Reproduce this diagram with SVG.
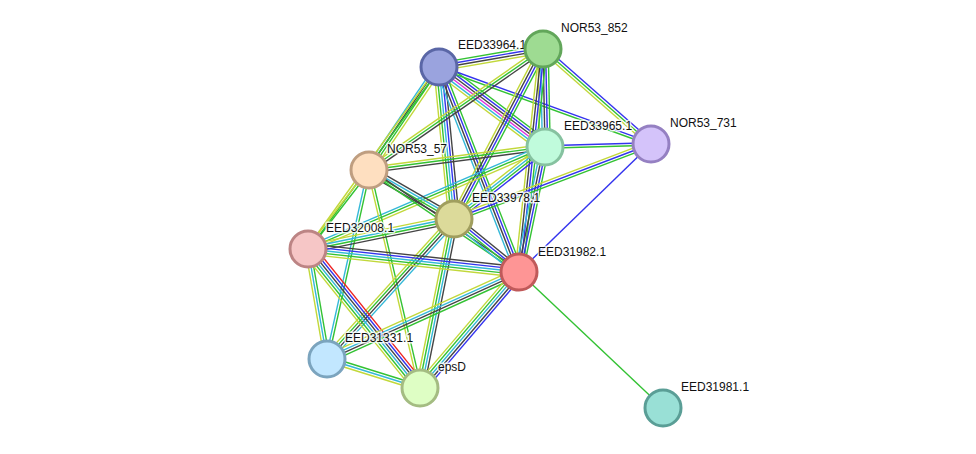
<svg xmlns="http://www.w3.org/2000/svg" width="976" height="454" viewBox="0 0 976 454">
<style>
#edges path{fill:none;stroke-width:1.4}
.g{stroke:#33c233}.b{stroke:#3333ee}.k{stroke:#444}.c{stroke:#33b8d8}.y{stroke:#c2d83a}.m{stroke:#dd33dd}.r{stroke:#ee2222}
.node circle{stroke-width:3}
text{font-family:"Liberation Sans",Arial,sans-serif;font-size:12px;fill:#111;stroke:#fff;stroke-width:3;stroke-opacity:0.8;paint-order:stroke;stroke-linejoin:round}
</style>
<rect width="976" height="454" fill="#fff"/>
<g id="edges">
<g transform="translate(439,67) rotate(-9.82)"><path class="g" d="M0,-3.9H105.5"/><path class="b" d="M0,-1.3H105.5"/><path class="k" d="M0,1.3H105.5"/><path class="y" d="M0,3.9H105.5"/></g>
<g transform="translate(439,67) rotate(37.04)"><path class="g" d="M0,-6.5H132.8"/><path class="b" d="M0,-3.9H132.8"/><path class="k" d="M0,-1.3H132.8"/><path class="m" d="M0,1.3H132.8"/><path class="c" d="M0,3.9H132.8"/><path class="y" d="M0,6.5H132.8"/></g>
<g transform="translate(439,67) rotate(19.96)"><path class="b" d="M0,-1.3H225.6"/><path class="g" d="M0,1.3H225.6"/></g>
<g transform="translate(439,67) rotate(124.2)"><path class="y" d="M0,-3.9H124.5"/><path class="g" d="M0,-1.3H124.5"/><path class="k" d="M0,1.3H124.5"/><path class="c" d="M0,3.9H124.5"/></g>
<g transform="translate(439,67) rotate(84.36)"><path class="k" d="M0,-5.2H152.7"/><path class="b" d="M0,-2.6H152.7"/><path class="c" d="M0,0H152.7"/><path class="g" d="M0,2.6H152.7"/><path class="y" d="M0,5.2H152.7"/></g>
<g transform="translate(439,67) rotate(68.68)"><path class="g" d="M0,-3.9H220.1"/><path class="b" d="M0,-1.3H220.1"/><path class="k" d="M0,1.3H220.1"/><path class="c" d="M0,3.9H220.1"/></g>
<g transform="translate(439,67) rotate(125.74)"><path class="g" d="M0,-1.3H224.2"/><path class="y" d="M0,1.3H224.2"/></g>
<g transform="translate(543,49) rotate(88.83)"><path class="g" d="M0,-5.2H98"/><path class="b" d="M0,-2.6H98"/><path class="k" d="M0,0H98"/><path class="c" d="M0,2.6H98"/><path class="y" d="M0,5.2H98"/></g>
<g transform="translate(543,49) rotate(41.34)"><path class="b" d="M0,-2.6H143.8"/><path class="g" d="M0,0H143.8"/><path class="y" d="M0,2.6H143.8"/></g>
<g transform="translate(543,49) rotate(145.19)"><path class="k" d="M0,-2.6H211.9"/><path class="g" d="M0,0H211.9"/><path class="y" d="M0,2.6H211.9"/></g>
<g transform="translate(543,49) rotate(117.64)"><path class="g" d="M0,-3.9H191.9"/><path class="b" d="M0,-1.3H191.9"/><path class="k" d="M0,1.3H191.9"/><path class="y" d="M0,3.9H191.9"/></g>
<g transform="translate(543,49) rotate(96.14)"><path class="g" d="M0,-3.9H224.3"/><path class="b" d="M0,-1.3H224.3"/><path class="k" d="M0,1.3H224.3"/><path class="y" d="M0,3.9H224.3"/></g>
<g transform="translate(545,147) rotate(-1.62)"><path class="b" d="M0,-1.3H106"/><path class="g" d="M0,1.3H106"/></g>
<g transform="translate(545,147) rotate(172.55)"><path class="k" d="M0,-2.6H177.5"/><path class="g" d="M0,0H177.5"/><path class="y" d="M0,2.6H177.5"/></g>
<g transform="translate(545,147) rotate(141.65)"><path class="b" d="M0,-3.9H116"/><path class="g" d="M0,-1.3H116"/><path class="c" d="M0,1.3H116"/><path class="y" d="M0,3.9H116"/></g>
<g transform="translate(545,147) rotate(101.75)"><path class="g" d="M0,-3.9H127.7"/><path class="b" d="M0,-1.3H127.7"/><path class="k" d="M0,1.3H127.7"/><path class="c" d="M0,3.9H127.7"/></g>
<g transform="translate(545,147) rotate(156.72)"><path class="y" d="M0,-2.6H258"/><path class="g" d="M0,0H258"/><path class="c" d="M0,2.6H258"/></g>
<g transform="translate(651,144) rotate(159.16)"><path class="g" d="M0,-2.6H210.8"/><path class="b" d="M0,0H210.8"/><path class="y" d="M0,2.6H210.8"/></g>
<g transform="translate(651,144) rotate(135.88)"><path class="b" d="M0,0H183.9"/></g>
<g transform="translate(369,170) rotate(29.96)"><path class="k" d="M0,-3.9H98.1"/><path class="c" d="M0,-1.3H98.1"/><path class="g" d="M0,1.3H98.1"/><path class="k" d="M0,3.9H98.1"/></g>
<g transform="translate(369,170) rotate(34.22)"><path class="k" d="M0,-1.3H181.4"/><path class="g" d="M0,1.3H181.4"/></g>
<g transform="translate(369,170) rotate(127.67)"><path class="g" d="M0,-1.3H99.8"/><path class="y" d="M0,1.3H99.8"/></g>
<g transform="translate(369,170) rotate(102.53)"><path class="g" d="M0,-1.3H193.6"/><path class="c" d="M0,1.3H193.6"/></g>
<g transform="translate(369,170) rotate(76.83)"><path class="g" d="M0,-1.3H223.9"/><path class="y" d="M0,1.3H223.9"/></g>
<g transform="translate(454,219) rotate(168.39)"><path class="k" d="M0,-3.9H149.1"/><path class="g" d="M0,-1.3H149.1"/><path class="c" d="M0,1.3H149.1"/><path class="y" d="M0,3.9H149.1"/></g>
<g transform="translate(454,219) rotate(39.2)"><path class="k" d="M0,-3.9H83.9"/><path class="b" d="M0,-1.3H83.9"/><path class="g" d="M0,1.3H83.9"/><path class="c" d="M0,3.9H83.9"/></g>
<g transform="translate(454,219) rotate(132.21)"><path class="c" d="M0,-3.9H189"/><path class="k" d="M0,-1.3H189"/><path class="g" d="M0,1.3H189"/><path class="y" d="M0,3.9H189"/></g>
<g transform="translate(454,219) rotate(101.37)"><path class="k" d="M0,-3.9H172.4"/><path class="c" d="M0,-1.3H172.4"/><path class="g" d="M0,1.3H172.4"/><path class="y" d="M0,3.9H172.4"/></g>
<g transform="translate(308,249) rotate(6.22)"><path class="k" d="M0,-5.2H212.2"/><path class="b" d="M0,-2.6H212.2"/><path class="c" d="M0,0H212.2"/><path class="g" d="M0,2.6H212.2"/><path class="y" d="M0,5.2H212.2"/></g>
<g transform="translate(308,249) rotate(80.2)"><path class="g" d="M0,-2.6H111.6"/><path class="c" d="M0,0H111.6"/><path class="y" d="M0,2.6H111.6"/></g>
<g transform="translate(308,249) rotate(51.14)"><path class="r" d="M0,-6.5H178.5"/><path class="b" d="M0,-3.9H178.5"/><path class="k" d="M0,-1.3H178.5"/><path class="c" d="M0,1.3H178.5"/><path class="g" d="M0,3.9H178.5"/><path class="y" d="M0,6.5H178.5"/></g>
<g transform="translate(519,272) rotate(155.62)"><path class="g" d="M0,-3.9H210.8"/><path class="k" d="M0,-1.3H210.8"/><path class="c" d="M0,1.3H210.8"/><path class="y" d="M0,3.9H210.8"/></g>
<g transform="translate(519,272) rotate(130.48)"><path class="b" d="M0,-5.2H152.5"/><path class="k" d="M0,-2.6H152.5"/><path class="c" d="M0,0H152.5"/><path class="g" d="M0,2.6H152.5"/><path class="y" d="M0,5.2H152.5"/></g>
<path class="g" d="M519,272L663,408"/>
<g transform="translate(327,359) rotate(17.32)"><path class="g" d="M0,-2.6H97.4"/><path class="c" d="M0,0H97.4"/><path class="y" d="M0,2.6H97.4"/></g>
</g>
<g id="n-EED33964" class="node"><circle cx="439" cy="67" r="18" fill="#9aa3de" stroke="#5a66a6"/><text x="458" y="49">EED33964.1</text></g>
<g id="n-NOR53_852" class="node"><circle cx="543" cy="49" r="18" fill="#9edb92" stroke="#62a65a"/><text x="561" y="32">NOR53_852</text></g>
<g id="n-EED33965" class="node"><circle cx="545" cy="147" r="18" fill="#c0fbdc" stroke="#86c2a0"/><text x="564" y="130">EED33965.1</text></g>
<g id="n-NOR53_731" class="node"><circle cx="651" cy="144" r="18" fill="#d4c3fa" stroke="#9580c2"/><text x="670" y="127">NOR53_731</text></g>
<g id="n-NOR53_57" class="node"><circle cx="369" cy="170" r="18" fill="#fedfc0" stroke="#bf9e80"/><text x="387" y="153">NOR53_57</text></g>
<g id="n-EED33978" class="node"><circle cx="454" cy="219" r="18" fill="#dcda9a" stroke="#a09e5e"/><text x="472" y="202">EED33978.1</text></g>
<g id="n-EED32008" class="node"><circle cx="308" cy="249" r="18" fill="#f6c6c6" stroke="#bc8484"/><text x="326" y="232">EED32008.1</text></g>
<g id="n-EED31982" class="node"><circle cx="519" cy="272" r="18" fill="#fe9595" stroke="#c05a5a"/><text x="538" y="256">EED31982.1</text></g>
<g id="n-EED31331" class="node"><circle cx="327" cy="359" r="18" fill="#c2e7ff" stroke="#7ba4be"/><text x="345" y="342">EED31331.1</text></g>
<g id="n-epsD" class="node"><circle cx="420" cy="388" r="18" fill="#defec4" stroke="#a4bc82"/><text x="438" y="371">epsD</text></g>
<g id="n-EED31981" class="node"><circle cx="663" cy="408" r="18" fill="#99e0d6" stroke="#5a9e96"/><text x="681" y="391">EED31981.1</text></g>
</svg>
